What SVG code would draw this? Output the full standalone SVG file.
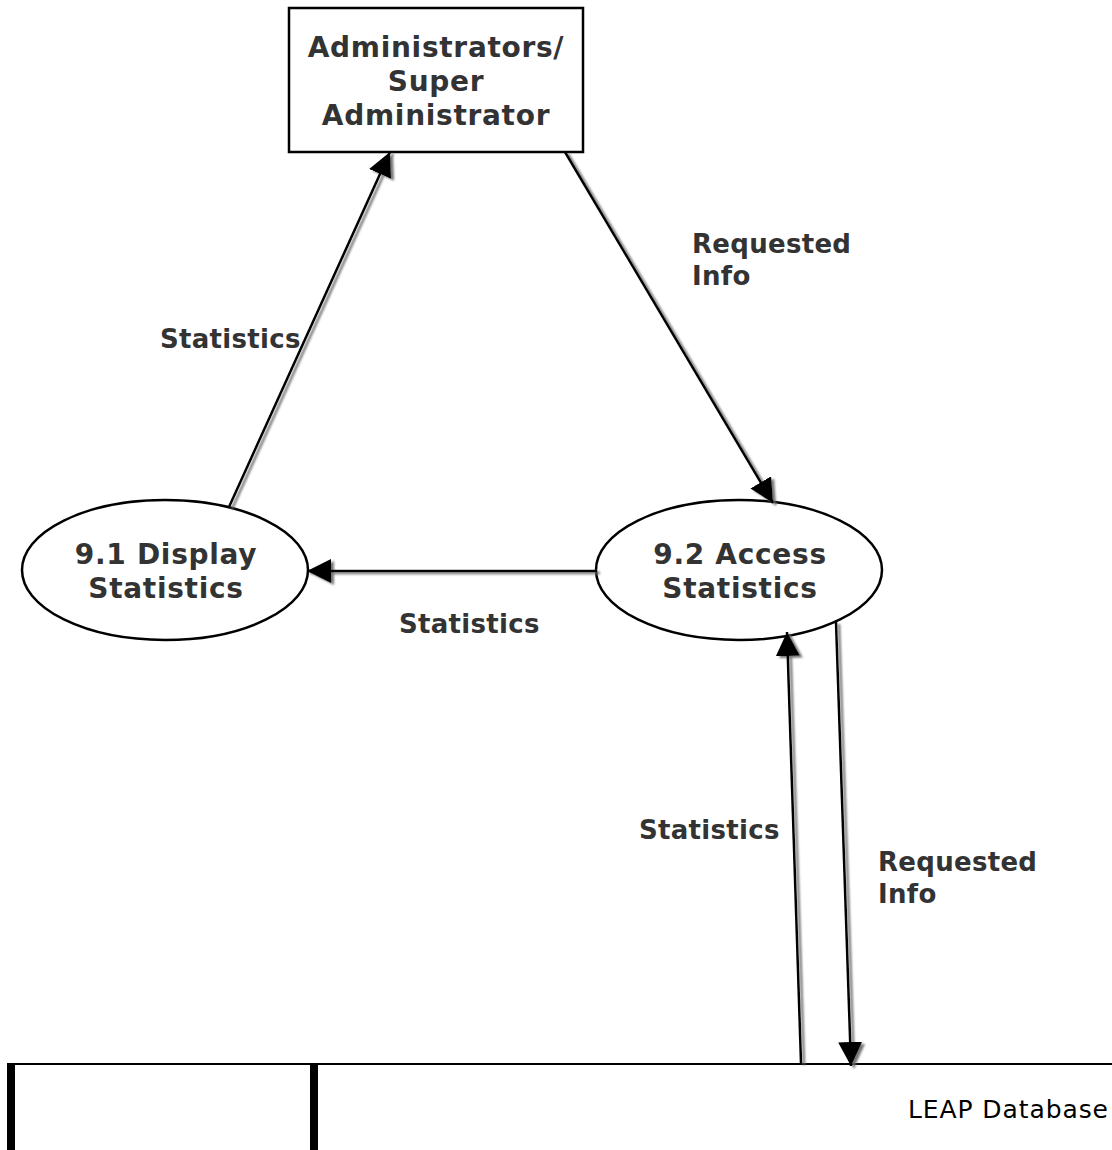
<svg xmlns="http://www.w3.org/2000/svg" width="1112" height="1150" viewBox="0 0 1112 1150">
<style>
.node{fill:#fff;stroke:#000;stroke-width:2.5}
.nt{font-family:"DejaVu Sans",Verdana,sans-serif;font-weight:bold;font-size:28px;letter-spacing:0.7px;fill:#333;text-anchor:middle}
.lbl{font-family:"DejaVu Sans",Verdana,sans-serif;font-weight:bold;font-size:26px;letter-spacing:0.3px;fill:#333}
.db{font-family:"DejaVu Sans",Verdana,sans-serif;font-size:25px;letter-spacing:0.9px;fill:#000}
.flow{stroke:#000;stroke-width:2.5;fill:none;marker-end:url(#ah)}
</style>
<defs>
<marker id="ah" markerUnits="userSpaceOnUse" markerWidth="24" markerHeight="24" viewBox="0 0 24 24" refX="24" refY="12" orient="auto">
<path d="M0,0 L24,12 L0,24 z" fill="#000"/>
</marker>
<filter id="sh" x="-20%" y="-20%" width="140%" height="140%">
<feDropShadow dx="3" dy="2" stdDeviation="0.8" flood-color="#666" flood-opacity="0.9"/>
</filter>
</defs>
<rect width="1112" height="1150" fill="#fff"/>
<g id="admin">
<rect class="node" x="289" y="8" width="294" height="144"/>
<text class="nt" x="436" y="57">Administrators/</text>
<text class="nt" x="436" y="91">Super</text>
<text class="nt" x="436" y="125">Administrator</text>
</g>
<g id="p91">
<ellipse class="node" cx="165" cy="570" rx="143" ry="70"/>
<text class="nt" x="166" y="564">9.1 Display</text>
<text class="nt" x="166" y="598">Statistics</text>
</g>
<g id="p92">
<ellipse class="node" cx="739" cy="570" rx="143" ry="70"/>
<text class="nt" x="740" y="564">9.2 Access</text>
<text class="nt" x="740" y="598">Statistics</text>
</g>
<g id="leapdb">
<line x1="8" y1="1064" x2="1112" y2="1064" stroke="#000" stroke-width="2"/>
<line x1="11" y1="1063" x2="11" y2="1150" stroke="#000" stroke-width="8"/>
<line x1="314" y1="1063" x2="314" y2="1150" stroke="#000" stroke-width="8"/>
<text class="db" x="908" y="1118">LEAP Database</text>
</g>
<g id="connectors" filter="url(#sh)">
<line class="flow" x1="229" y1="507" x2="390" y2="152"/>
<line class="flow" x1="565" y1="152" x2="773" y2="503"/>
<line class="flow" x1="597" y1="571" x2="307" y2="571"/>
<line class="flow" x1="801" y1="1063" x2="787" y2="632"/>
<line class="flow" x1="836" y1="622" x2="851" y2="1066"/>
</g>
<g id="labels">
<text class="lbl" x="160" y="348">Statistics</text>
<text class="lbl" x="692" y="253">Requested</text>
<text class="lbl" x="692" y="285">Info</text>
<text class="lbl" x="399" y="633">Statistics</text>
<text class="lbl" x="639" y="839">Statistics</text>
<text class="lbl" x="878" y="871">Requested</text>
<text class="lbl" x="878" y="903">Info</text>
</g>
</svg>
